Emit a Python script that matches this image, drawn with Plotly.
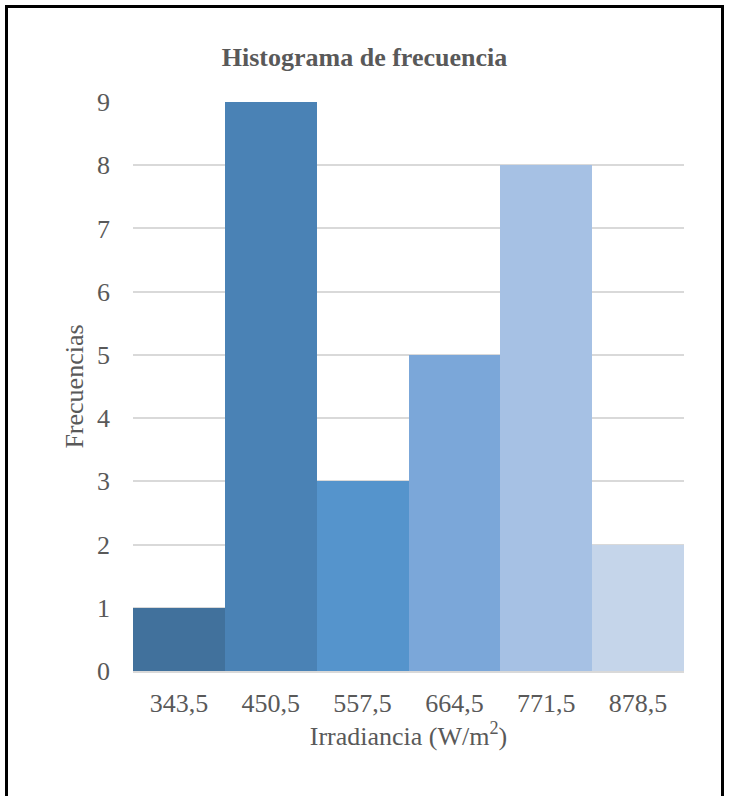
import plotly.graph_objects as go

# class marks (W/m2) and how many readings fell in each class
clases = ["343,5", "450,5", "557,5", "664,5", "771,5", "878,5"]
frecuencias = [1, 9, 3, 5, 8, 2]
colores = ["#41719c", "#4a82b5", "#5594cc", "#7ba7d9", "#a6c1e4", "#c5d5ea"]

fuente = "Liberation Serif"
gris = "#595959"

fig = go.Figure(data=[go.Bar(x=clases, y=frecuencias, marker=dict(color=colores, line=dict(width=0)))])

fig.update_layout(
    width=729, height=796,
    paper_bgcolor="white", plot_bgcolor="white",
    margin=dict(l=133, r=45, t=102, b=125),
    bargap=0,
    showlegend=False,
    font=dict(family=fuente, color=gris, size=26),
    title=dict(text="<b>Histograma de frecuencia</b>", x=0.5, xanchor="center",
               y=1 - 57 / 796, yanchor="middle", font=dict(family=fuente, size=26, color=gris)),
    xaxis=dict(title=dict(text="Irradiancia (W/m<sup>2</sup>)", standoff=0, font=dict(size=26)),
               showgrid=False, showline=True, linecolor="#d9d9d9", linewidth=2,
               ticks="", ticklabelstandoff=8, tickfont=dict(size=26)),
    yaxis=dict(title=dict(text="Frecuencias", standoff=5, font=dict(size=26)),
               range=[0, 9], dtick=1, showgrid=True, gridcolor="#d9d9d9", gridwidth=2,
               zeroline=False, showline=False, ticks="", ticklabelstandoff=22,
               tickfont=dict(size=26)),
)

# outer frame around the chart
fig.add_shape(type="rect", xref="paper", yref="paper",
              x0=(6.5 - 133) / 551, x1=(722.5 - 133) / 551,
              y0=-0.3, y1=(671 - 6.5) / 569,
              line=dict(color="black", width=3), fillcolor="rgba(0,0,0,0)")

# page margin off so the figure sits at the window corner
fig.write_html("out.html", config={"displayModeBar": False},
               post_script="document.body.style.margin='0';")
